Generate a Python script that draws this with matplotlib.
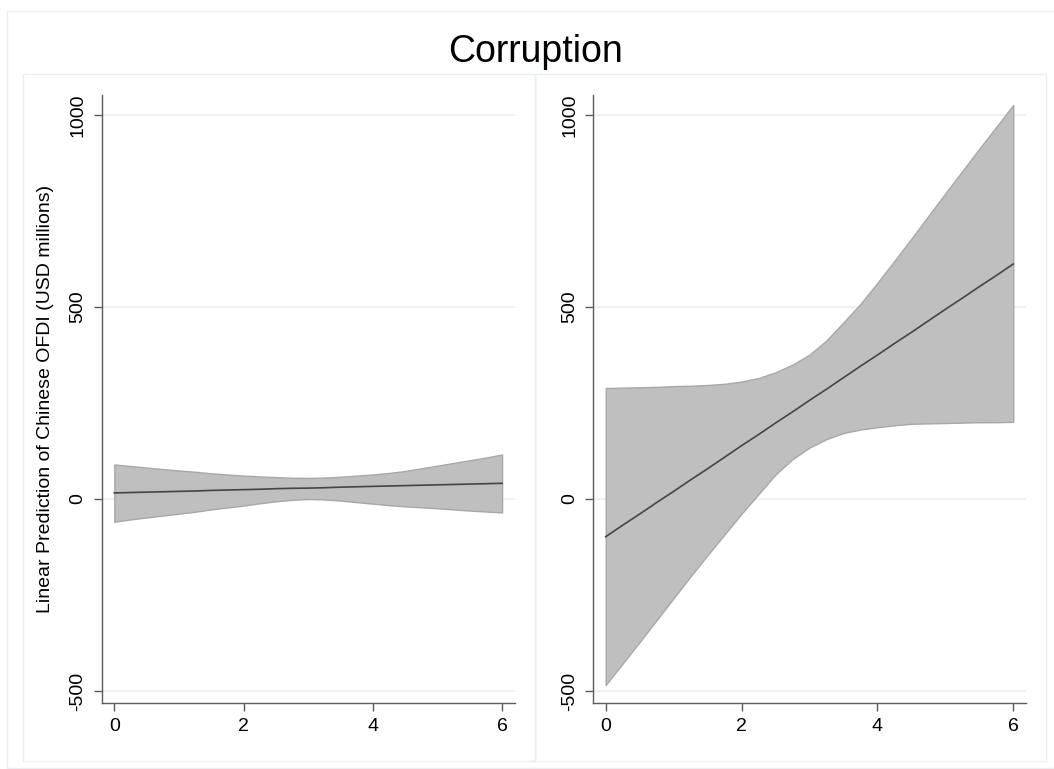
import matplotlib
matplotlib.use("Agg")
import matplotlib.pyplot as plt
from matplotlib.patches import Rectangle

plt.rcParams["font.family"] = ["Liberation Sans", "DejaVu Sans"]
plt.rcParams["axes.unicode_minus"] = False

# --- data (margins plot, two panels) ---
x_vals = [0, 0.25, 0.5, 0.75, 1, 1.25, 1.5, 1.75, 2, 2.25, 2.5, 2.75, 3,
          3.25, 3.5, 3.75, 4, 4.25, 4.5, 4.75, 5, 5.25, 5.5, 5.75, 6]

left_fit = [16, 17, 18, 19, 20, 21, 22.5, 23.5, 24.5, 25.5, 27, 28, 28.5,
            29.5, 31, 32, 33, 34, 35, 36, 37, 38, 39, 40, 41]
left_hi = [90, 86, 82, 78, 74.5, 71, 67, 64, 61, 59, 57, 55.5, 55,
           56, 58, 61, 64, 68, 73, 80, 87, 94, 101, 108, 116]
left_lo = [-59, -53, -48, -43, -38, -33, -27, -22, -17, -11, -6, -2, 0,
           -1, -4, -8, -12, -16, -19, -21.5, -24, -27, -30, -32.5, -35]

right_fit = [-98, -68, -39, -9, 20, 50, 79, 109, 139, 168, 198, 227, 257,
             286, 316, 346, 375, 405, 434, 464, 494, 523, 553, 582, 612]
right_hi = [289, 290, 291, 292, 294, 295, 297, 300, 306, 315, 330, 350, 376,
            413, 460, 508, 563, 620, 678, 737, 796, 854, 912, 969, 1026]
right_lo = [-484, -428, -372, -315, -258, -201, -146, -92, -38, 13, 64, 104, 134,
            156, 172, 181, 187, 192, 196, 197, 198, 199, 200, 200, 201]

x_ticks = [0, 2, 4, 6]
y_ticks = [-500, 0, 500, 1000]
title = "Corruption"
y_title = "Linear Prediction of Chinese OFDI (USD millions)"

W, H = 1054, 769
fig = plt.figure(figsize=(W / 100, H / 100), dpi=100)
fig.patch.set_facecolor("white")

box_col = "#e9f0f1"
grid_col = "#e8f0f1"
axis_col = "#5a5a5a"


def px_rect(x0, y0, x1, y1):
    r = Rectangle((x0 / W, 1 - y1 / H), (x1 - x0) / W, (y1 - y0) / H,
                  transform=fig.transFigure, fill=False, ec=box_col, lw=1.0)
    fig.add_artist(r)


px_rect(7, 10.5, 1062, 768)
px_rect(23, 74, 535, 761)
px_rect(535, 74, 1046, 761)

bottom = (H - 703) / H
height = (703 - 95) / H
ax1 = fig.add_axes([101.7 / W, bottom, (515 - 101.7) / W, height])
ax2 = fig.add_axes([593.3 / W, bottom, (1025.7 - 593.3) / W, height])

panels = [
    (ax1, left_fit, left_hi, left_lo, (-0.195, 6.20)),
    (ax2, right_fit, right_hi, right_lo, (-0.183, 6.183)),
]
for ax, fit, hi, lo, xl in panels:
    ax.fill_between(x_vals, lo, hi, facecolor="#bfbfbf", edgecolor="#a8a8a8",
                    lw=1.0, zorder=2)
    ax.plot(x_vals, fit, color="#454545", lw=1.2, zorder=3)
    ax.set_xlim(*xl)
    ax.set_ylim(-531, 1052)
    ax.set_xticks(x_ticks)
    ax.set_yticks(y_ticks)
    ax.grid(axis="y", color=grid_col, lw=1.2, zorder=0)
    ax.set_axisbelow(True)
    for s in ["top", "right"]:
        ax.spines[s].set_visible(False)
    for s in ["left", "bottom"]:
        ax.spines[s].set_color(axis_col)
        ax.spines[s].set_linewidth(1.0)
    ax.tick_params(axis="both", length=6, width=1.0, color=axis_col,
                   labelsize=14, labelcolor="black")
    ax.tick_params(axis="y", pad=5)
    ax.tick_params(axis="x", pad=5)
    plt.setp(ax.get_yticklabels(), rotation=90, va="center")

ax1.set_ylabel(y_title, fontsize=14, labelpad=11)

fig.text(0.508, 1 - 62 / H, title, ha="center", va="baseline", fontsize=27)

fig.savefig("out.png", dpi=100)
